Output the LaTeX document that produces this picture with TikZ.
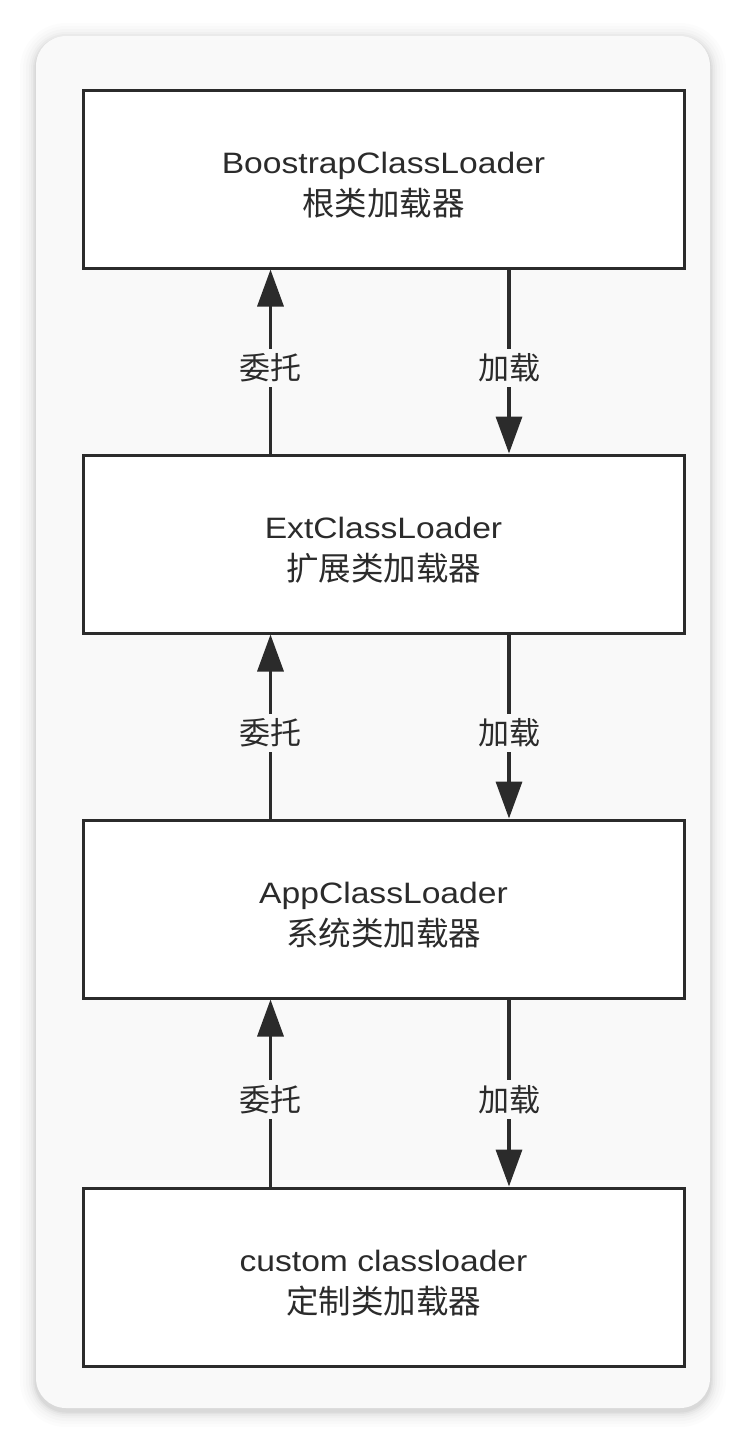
\documentclass[tikz,border=0pt]{standalone}
\usepackage{fontspec}
\setmainfont[FakeStretch=1.14]{Liberation Sans}
\newfontfamily\cjk{Noto Sans CJK SC}
\usetikzlibrary{arrows.meta}
\definecolor{card}{HTML}{F9F9F9}
\definecolor{ink}{HTML}{2B2B2B}
\newcommand{\zh}[1]{{\cjk\fontsize{32.5}{42}\selectfont #1}}
\tikzset{
  loader/.style={draw=ink, line width=3pt, fill=white, minimum width=601pt, minimum height=178pt, inner sep=0pt},
  ltext/.style={align=center, text=ink, font=\fontsize{29.5}{42}\selectfont, inner sep=0pt},
  link/.style={draw=ink, line width=3.5pt, -{Triangle[length=37pt,width=26pt]}},
  lbl/.style={fill=card, text=ink, inner xsep=2pt, inner ysep=5pt, font=\cjk\fontsize{31}{32}\selectfont}
}
\begin{document}
\begin{tikzpicture}[x=1pt,y=-1pt]
\useasboundingbox (0,0) rectangle (746,1444);
\fill[white] (0,0) rectangle (746,1444);
% shadow
\foreach \s/\o in {16/0.01,13/0.012,10/0.016,7/0.02,5/0.025,3/0.03,1.5/0.04}{
  \fill[black, opacity=\o, rounded corners=30+\s] (36-\s,36-\s+3) rectangle (710+\s,1408+\s+3);
}
\fill[card, rounded corners=30] (36,36) rectangle (710,1408);

\node[loader] (b1) at (383.5,179) {};
\node[loader] (b2) at (383.5,544) {};
\node[loader] (b3) at (383.5,909) {};
\node[loader] (b4) at (383.5,1277) {};
\node[ltext] (t1) at ([yshift=-6pt]b1.center) {BoostrapClassLoader\\\zh{根类加载器}};
\node[ltext] (t2) at ([yshift=-6pt]b2.center) {ExtClassLoader\\\zh{扩展类加载器}};
\node[ltext] (t3) at ([yshift=-6pt]b3.center) {AppClassLoader\\\zh{系统类加载器}};
\node[ltext] (t4) at ([yshift=-6pt]b4.center) {custom classloader\\\zh{定制类加载器}};

\coordinate (xl) at (270.5,0);
\coordinate (xr) at (509,0);

\draw[link] (b2.north -| xl) -- node[lbl, pos=0.465] (d1) {委托} (b1.south -| xl);
\draw[link] (b1.south -| xr) -- node[lbl, pos=0.535] (l1) {加载} (b2.north -| xr);
\draw[link] (b3.north -| xl) -- node[lbl, pos=0.465] (d2) {委托} (b2.south -| xl);
\draw[link] (b2.south -| xr) -- node[lbl, pos=0.535] (l2) {加载} (b3.north -| xr);
\draw[link] (b4.north -| xl) -- node[lbl, pos=0.465] (d3) {委托} (b3.south -| xl);
\draw[link] (b3.south -| xr) -- node[lbl, pos=0.535] (l3) {加载} (b4.north -| xr);
\end{tikzpicture}
\end{document}
